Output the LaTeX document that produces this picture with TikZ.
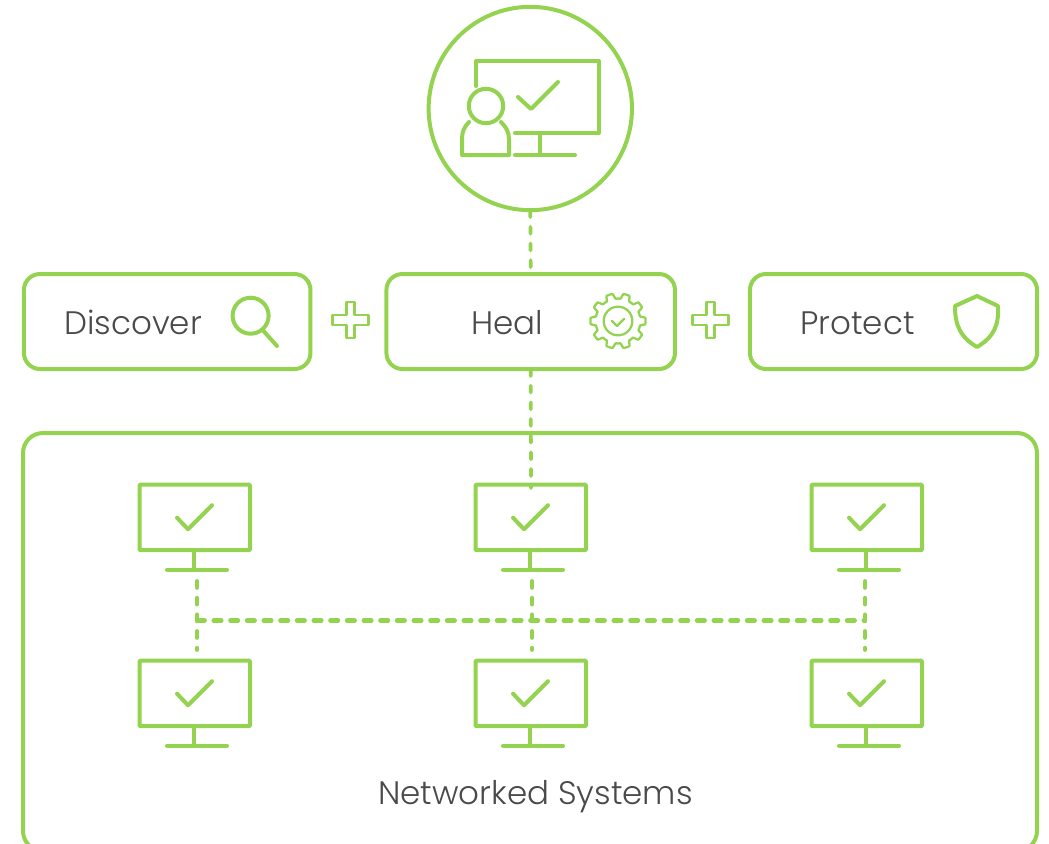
\documentclass[tikz,border=0pt]{standalone}
\usepackage{fontspec}
\setmainfont{Poppins Light}
\definecolor{lime}{HTML}{93D350}
\definecolor{ink}{HTML}{4A4A4A}
\tikzset{
  x=0.75pt,y=-0.75pt,
  glyph/.style={draw=lime,line width=3pt,line cap=round,line join=round},
  thin glyph/.style={draw=lime,line width=1.7pt,line join=round},
  card/.style={draw=lime,line width=3pt,rounded corners=12pt,inner sep=0pt,outer sep=0pt,minimum height=71.25pt},
  label/.style={text=ink,font=\fontsize{24.4}{28}\selectfont,inner sep=0pt,anchor=base},
  vlink/.style={draw=lime,line width=2.8pt,line cap=round,dash pattern=on 5.2pt off 7.3pt},
  hlink/.style={draw=lime,line width=3.2pt,line cap=round,dash pattern=on 5.8pt off 6.7pt},
  monitorpic/.pic={
    \draw[glyph,rounded corners=0.6pt] (0,0) rectangle (110.5,65.5);
    \draw[glyph] (54.5,65.5) -- (54.5,85) (27.5,85) -- (87.5,85);
    \draw[glyph] (37.5,33) -- (48.5,44.5) -- (72.5,20.5);
  },
  plussign/.pic={
    \draw[thin glyph] (-4,-18) -- (4,-18) -- (4,-5) -- (18,-5) -- (18,5) -- (4,5) -- (4,18) -- (-4,18) -- (-4,5) -- (-18,5) -- (-18,-5) -- (-4,-5) -- cycle;
  }
}
\begin{document}
\begin{tikzpicture}
\useasboundingbox (0,0) rectangle (1049,843);

\node[circle,draw=lime,line width=3pt,minimum size=152.5pt,inner sep=0pt,outer sep=0pt] (admin) at (530.3,108.5) {};
\node[card,minimum width=214.9pt] (discover) at (167.2,321.5) {};
\node[card,minimum width=216.4pt] (heal) at (530.7,321.5) {};
\node[card,minimum width=215.3pt] (protect) at (893.5,321.5) {};

\begin{scope}
\clip (0,0) rectangle (1049,843);
\node[draw=lime,line width=3pt,rounded corners=15pt,inner sep=0pt,outer sep=0pt,minimum width=760.5pt,minimum height=313.5pt] (systems) at (530,642) {};
\end{scope}

% top icon
\draw[glyph] (476,86) -- (476,61) -- (599,61) -- (599,133) -- (515,133);
\draw[glyph] (540,133) -- (540,155) (515,155) -- (575,155);
\draw[glyph] (518,97) -- (531,109) -- (558,82);
\node[circle,draw=lime,line width=3pt,minimum size=25.8pt,inner sep=0pt] (head) at (486,106) {};
\draw[glyph] (469,122) .. controls (464,127) and (462,132) .. (462,139) -- (462,155) -- (509,155) -- (509,139) .. controls (509,132) and (506,127) .. (501,122);

% pluses
\pic at (350.5,320) {plussign};
\pic at (710.5,320) {plussign};

% magnifier
\node[circle,draw=lime,line width=3pt,minimum size=27pt,inner sep=0pt,outer sep=0pt] (lens) at (250.6,315.7) {};
\coordinate (handle) at (277,346);
\draw[glyph] (lens.-50) -- (handle);

% gear
\draw[thin glyph] plot[domain=0:360,samples=361,variable=\t]
  ({618+(25+2.6*max(-1,min(1,2.4*cos(10*\t))))*cos(\t)},{321+(25+2.6*max(-1,min(1,2.4*cos(10*\t))))*sin(\t)}) -- cycle;
\node[circle,thin glyph,minimum size=21.5pt,inner sep=0pt] (dial) at (618,321) {};
\draw[thin glyph,line cap=round] (612,321) -- (617,326) -- (624,319);

% shield
\draw[glyph] (977,296) -- (998,306) .. controls (999,325) and (994,337) .. (977,347) .. controls (960,337) and (955,325) .. (955,306) -- cycle;

% monitors
\foreach \col in {0,336,672}{
  \foreach \row in {0,176}{
    \pic at ({139.5+\col},{484.7+\row}) {monitorpic};
  }
}

% named anchors for the dashed links
\coordinate (m2top) at (531,488);
\coordinate (a1) at (197,581);
\coordinate (a2) at (532,581);
\coordinate (a3) at (865,581);
\coordinate (b1) at (197,650);
\coordinate (b2) at (532,650);
\coordinate (b3) at (865,650);
\coordinate (busl) at (197,620.5);
\coordinate (busr) at (865,620.5);

\draw[vlink] (admin.south) -- (heal.north);
\draw[vlink] (heal.south) -- (m2top);
\draw[vlink] (a1) -- (b1);
\draw[vlink] (a2) -- (b2);
\draw[vlink] (a3) -- (b3);
\draw[hlink] (busl) -- (busr);

% labels
\node[label] (t1) at (133,334) {Discover};
\node[label] (t2) at (507,334) {Heal};
\node[label] (t3) at (857.5,334) {Protect};
\node[label] (t4) at (535.5,804) {Networked Systems};
\end{tikzpicture}
\end{document}
